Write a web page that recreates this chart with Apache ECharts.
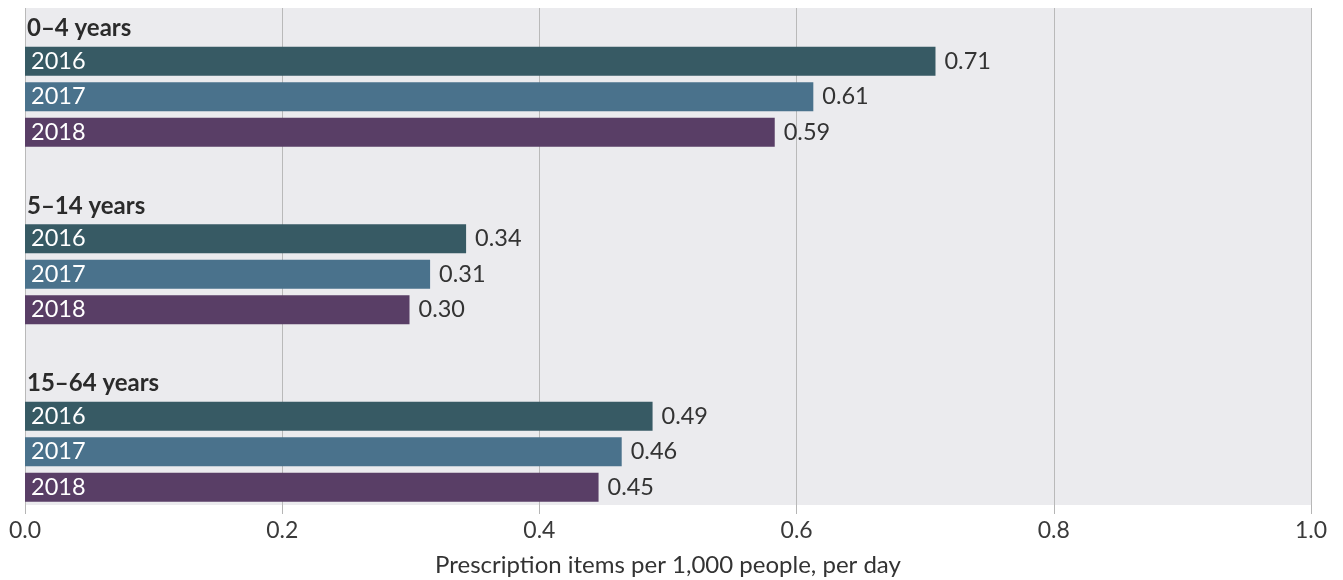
<!DOCTYPE html>
<html>
<head>
<meta charset="utf-8">
<script src="https://cdn.jsdelivr.net/npm/echarts@6/dist/echarts.min.js"></script>
<style>html,body{margin:0;padding:0;background:#fff}#c{width:1343px;height:580px}</style>
</head>
<body>
<div id="c"></div>
<script>
// Data
var groups = ['0–4 years', '5–14 years', '15–64 years'];
var years = ['2016', '2017', '2018'];
var values2016 = [0.708, 0.343, 0.488];
var values2017 = [0.613, 0.315, 0.464];
var values2018 = [0.583, 0.299, 0.446];
var labels2016 = ['0.71', '0.34', '0.49'];
var labels2017 = ['0.61', '0.31', '0.46'];
var labels2018 = ['0.59', '0.30', '0.45'];
var xTicks = [0, 0.2, 0.4, 0.6, 0.8, 1.0];
var axisTitle = 'Prescription items per 1,000 people, per day';

var colors = ['#375a64', '#4a728c', '#593e66'];
var seriesVals = [values2016, values2017, values2018];
var seriesLabels = [labels2016, labels2017, labels2018];

// Build rows: group label, 3 year rows, blank (between groups)
var rows = [];
var rowKinds = [];
var rowText = [];
groups.forEach(function (g, gi) {
  rows.push('g' + gi); rowKinds.push('g'); rowText.push(g);
  years.forEach(function (y, yi) {
    rows.push('y' + gi + '_' + yi); rowKinds.push('y'); rowText.push(y);
  });
  if (gi < groups.length - 1) { rows.push('b' + gi); rowKinds.push('b'); rowText.push(''); }
});

var series = years.map(function (y, yi) {
  var data = rows.map(function (r) {
    var m = r.match(/^y(\d+)_(\d+)$/);
    if (m && +m[2] === yi) return { value: seriesVals[yi][+m[1]], lab: seriesLabels[yi][+m[1]] };
    return '-';
  });
  return {
    name: y, type: 'bar', data: data, barWidth: '82%', barGap: '-100%',
    itemStyle: { color: colors[yi] },
    label: {
      show: true, position: 'right', distance: 9,
      fontFamily: 'Lato', fontSize: 23.5, color: '#333',
      formatter: function (p) { return p.data.lab; }
    },
    silent: true, animation: false
  };
});

var chart = echarts.init(document.getElementById('c'), null, { renderer: 'canvas' });
chart.setOption({
  animation: false,
  textStyle: { fontFamily: 'Lato' },
  grid: { left: 25, right: 32, top: 8, bottom: 75, show: true, backgroundColor: '#ebebee', borderWidth: 0,
    containLabel: false, outerBoundsMode: 'none' },
  xAxis: {
    type: 'value', min: 0, max: 1, interval: 0.2,
    axisLine: { show: false },
    axisTick: { show: true, length: 9, lineStyle: { color: '#b5b5b5' } },
    splitLine: { show: true, lineStyle: { color: '#b9b9b9', width: 1 } },
    axisLabel: { fontFamily: 'Lato', fontSize: 23, color: '#3a3a3a', margin: 14,
      formatter: function (v) { return v.toFixed(1); } },
    name: axisTitle, nameLocation: 'middle', nameGap: 48,
    nameTextStyle: { fontFamily: 'Lato', fontSize: 24, color: '#333' }
  },
  yAxis: {
    type: 'category', data: rows, inverse: true, z: 10,
    axisLine: { show: false }, axisTick: { show: false }, splitLine: { show: false },
    axisLabel: {
      inside: true, margin: 2, interval: 0,
      formatter: function (v, i) {
        var k = rowKinds[i];
        if (k === 'g') return '{g|' + rowText[i] + '}';
        if (k === 'y') return '{y|' + rowText[i] + '}';
        return '';
      },
      rich: {
        g: { fontFamily: 'Lato', fontWeight: 'bold', fontSize: 24, color: '#2b2b2b', padding: [6, 0, 0, 0] },
        y: { fontFamily: 'Lato', fontSize: 23.5, color: '#ffffff', padding: [0, 0, 0, 4] }
      }
    }
  },
  series: series
});
</script>
</body>
</html>
